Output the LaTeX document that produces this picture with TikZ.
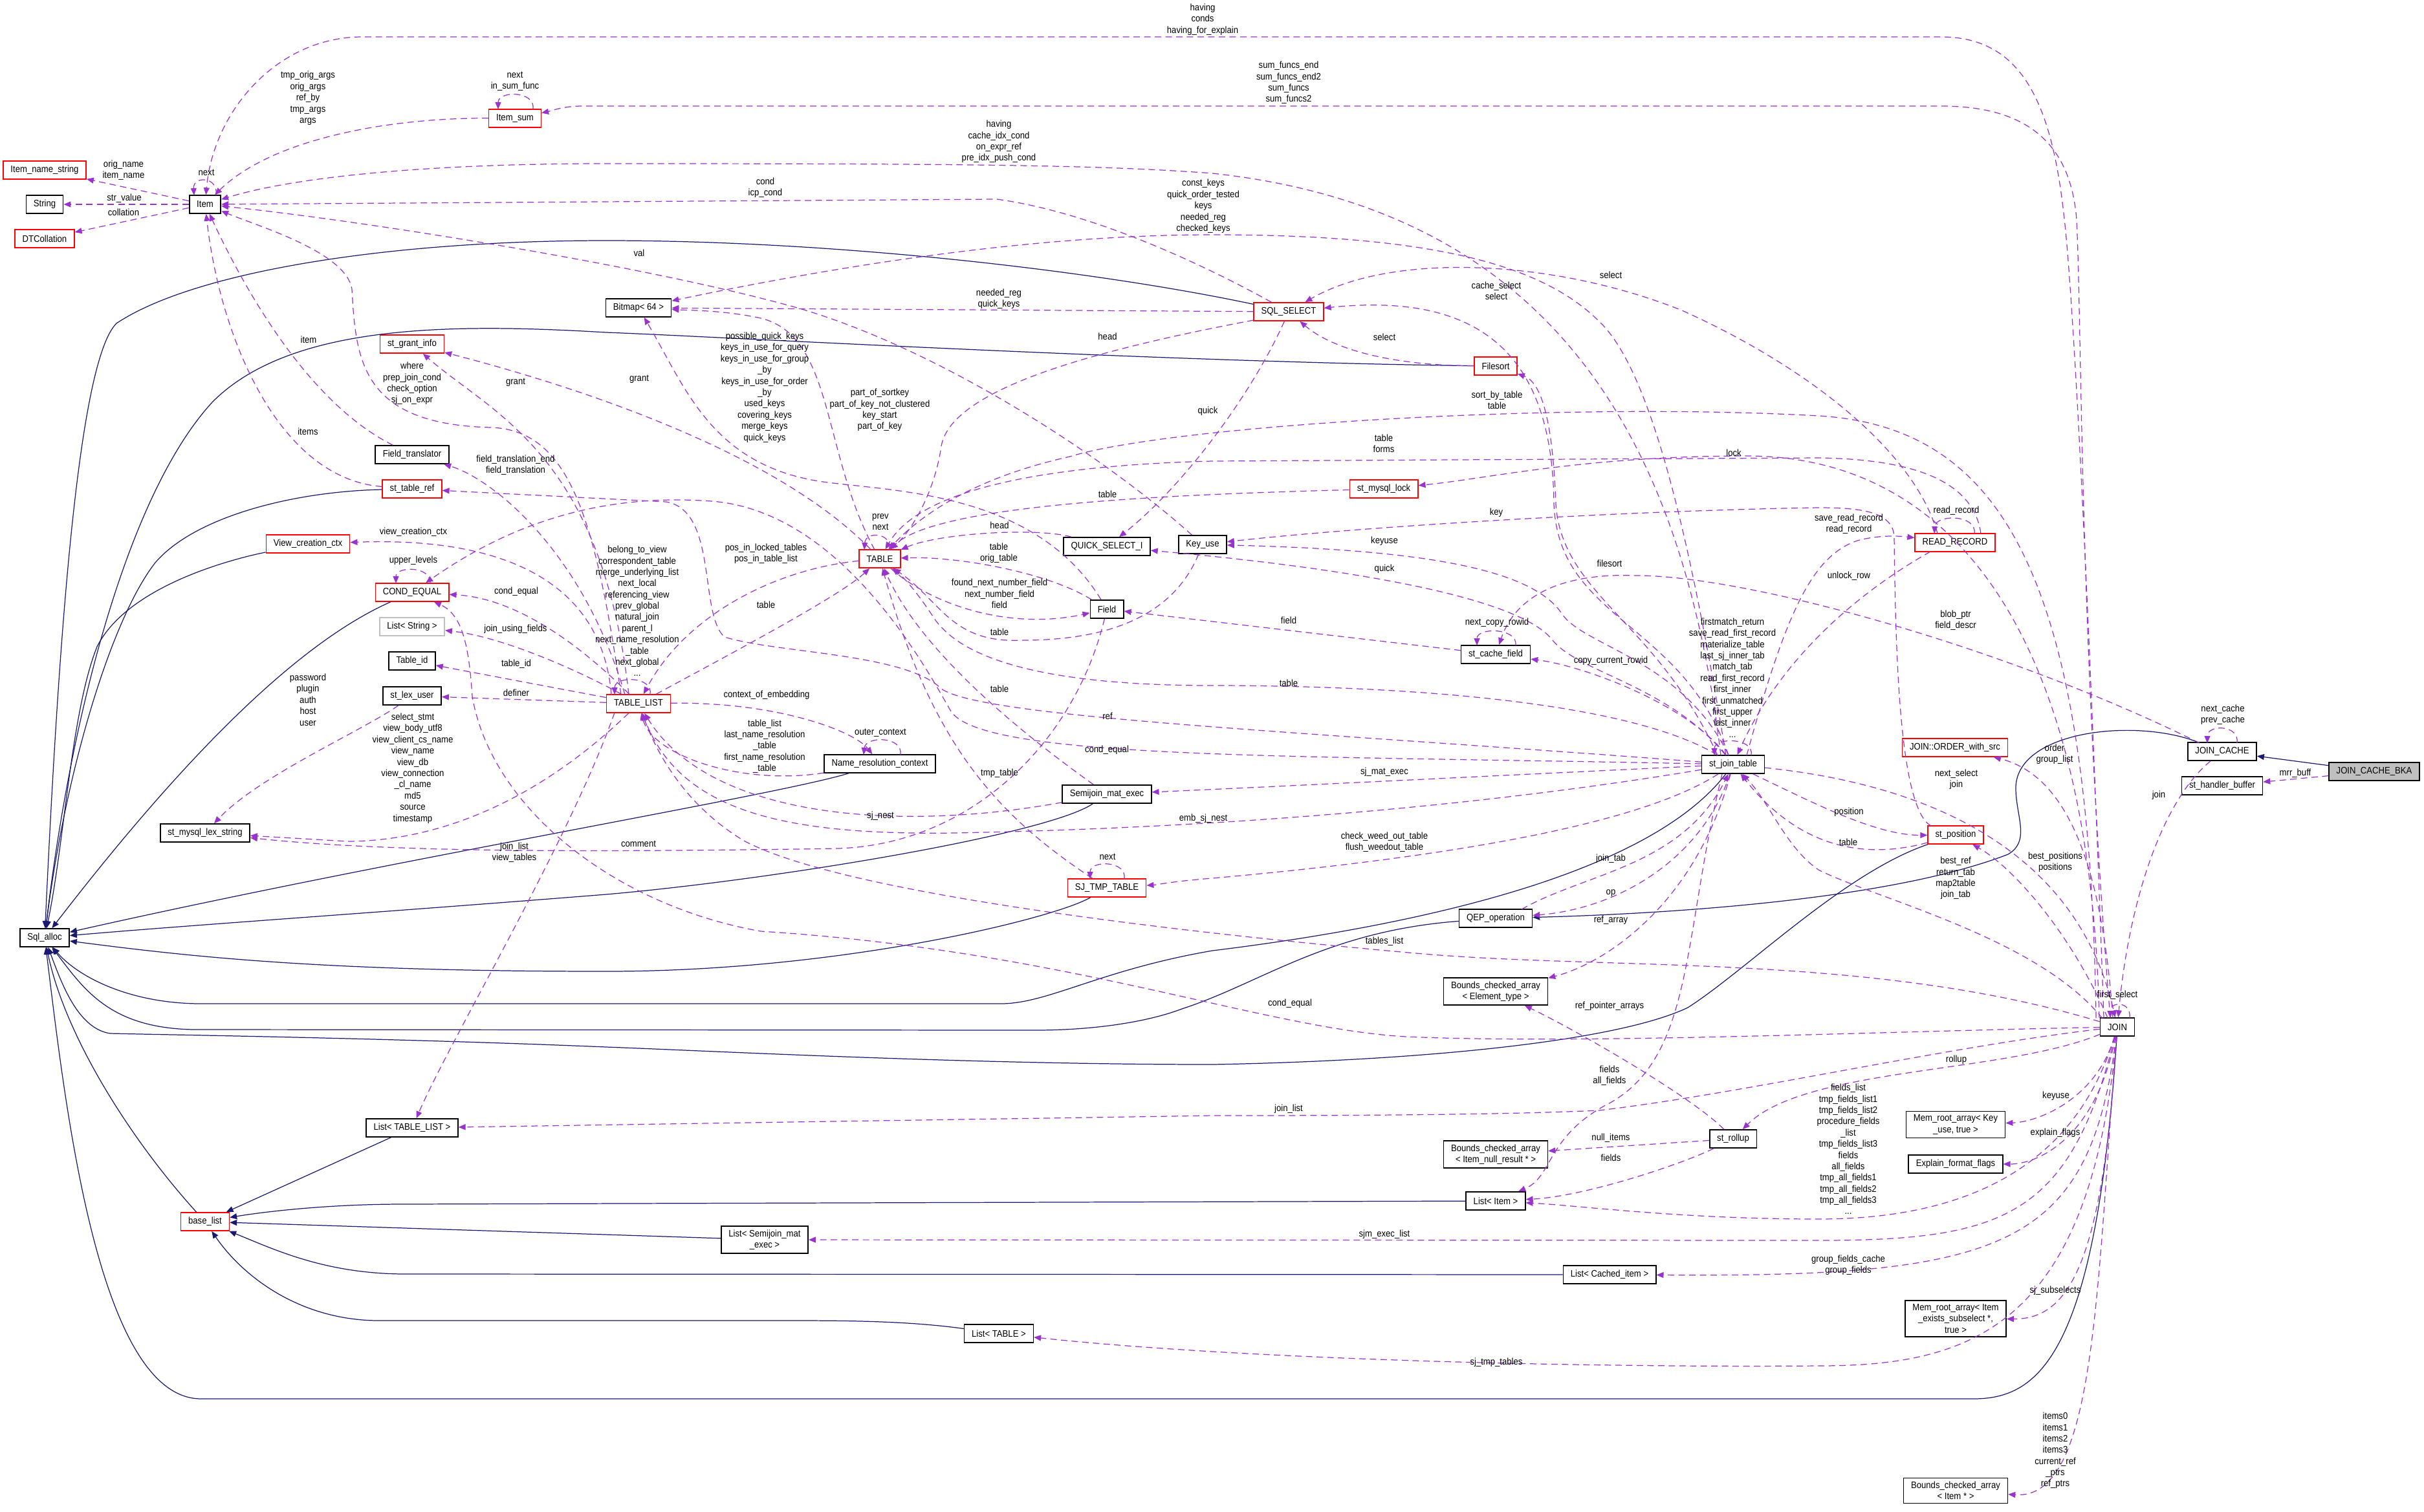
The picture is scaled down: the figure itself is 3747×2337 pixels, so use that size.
\documentclass[tikz,border=0pt]{standalone}
\usepackage{fontspec}
\setmainfont{Liberation Sans}[FakeStretch=0.9]
\usetikzlibrary{arrows.meta}
\definecolor{edgeuse}{HTML}{9A32CD}
\definecolor{edgebase}{HTML}{191970}
\definecolor{boxtrunc}{HTML}{FF0000}
\definecolor{boxgrey}{HTML}{BFBFBF}

\begin{document}
\begin{tikzpicture}[x=0.02cm,y=-0.02cm,
    every node/.style={font=\fontsize{8.3}{9.9}\selectfont},
    cls/.style={draw=black,line width=0.9pt,minimum height=0.56cm,inner xsep=0.23cm,inner ysep=0.11cm,align=center},
    trunc/.style={cls,draw=boxtrunc},
    lbl/.style={align=center,inner sep=0pt},
    use/.style={edgeuse,line width=0.7pt,dash pattern=on 0.2cm off 0.13cm,-{Triangle[length=0.22cm,width=0.18cm]}},
    base/.style={edgebase,line width=0.7pt,-{Triangle[length=0.22cm,width=0.18cm]}}]
    \useasboundingbox (0,0) rectangle (3747,2337);

    \node[trunc] (itemname) at (69,263) {Item\_name\_string};
    \node[cls] (string) at (69,316) {String};
    \node[trunc] (dtcoll) at (69,369) {DTCollation};
    \node[cls] (item) at (317,316) {Item};
    \node[trunc] (itemsum) at (796,183) {Item\_sum};
    \node[cls] (bitmap) at (987,476) {Bitmap< 64 >};
    \node[trunc] (sqlsel) at (1992,482) {SQL\_SELECT};
    \node[trunc] (filesort) at (2312,566) {Filesort};
    \node[trunc] (grantinfo) at (637,532) {st\_grant\_info};
    \node[cls] (fieldtr) at (637,703) {Field\_translator};
    \node[trunc] (tableref) at (637,756) {st\_table\_ref};
    \node[trunc] (mysqllock) at (2139,756) {st\_mysql\_lock};
    \node[trunc] (viewctx) at (476,841) {View\_creation\_ctx};
    \node[trunc] (table) at (1360,864) {TABLE};
    \node[cls] (quicksel) at (1711,845) {QUICK\_SELECT\_I};
    \node[cls] (keyuse) at (1859,842) {Key\_use};
    \node[trunc] (readrec) at (3022,839) {READ\_RECORD};
    \node[trunc] (condeq) at (637,916) {COND\_EQUAL};
    \node[cls] (field) at (1711,942) {Field};
    \node[cls,draw=boxgrey] (liststring) at (637,969) {List< String >};
    \node[cls] (cachefield) at (2312,1012) {st\_cache\_field};
    \node[cls] (tableid) at (637,1022) {Table\_id};
    \node[cls] (lexuser) at (637,1076) {st\_lex\_user};
    \node[trunc] (tablelist) at (987,1088) {TABLE\_LIST};
    \node[trunc] (joinorder) at (3022,1156) {JOIN::ORDER\_with\_src};
    \node[cls] (joincache) at (3435,1162) {JOIN\_CACHE};
    \node[cls] (nameres) at (1360,1181) {Name\_resolution\_context};
    \node[cls] (jointab) at (2679,1182) {st\_join\_table};
    \node[cls,fill=boxgrey] (bka) at (3670,1193) {JOIN\_CACHE\_BKA};
    \node[cls] (handlerbuf) at (3435,1215) {st\_handler\_buffer};
    \node[cls] (sjmat) at (1711,1228) {Semijoin\_mat\_exec};
    \node[cls] (lexstring) at (317,1288) {st\_mysql\_lex\_string};
    \node[trunc] (position) at (3023,1291) {st\_position};
    \node[trunc] (sjtmp) at (1711,1373) {SJ\_TMP\_TABLE};
    \node[cls] (qep) at (2312,1420) {QEP\_operation};
    \node[cls] (sqlalloc) at (69,1450) {Sql\_alloc};
    \node[cls] (bndelem) at (2312,1533) {Bounds\_checked\_array\\< Element\_type >};
    \node[cls] (join) at (3273,1588) {JOIN};
    \node[cls] (memkeyuse) at (3023,1739) {Mem\_root\_array< Key\\\_use, true >};
    \node[cls] (listtl) at (637,1744) {List< TABLE\_LIST >};
    \node[cls] (rollup) at (2679,1761) {st\_rollup};
    \node[cls] (bndnull) at (2312,1785) {Bounds\_checked\_array\\< Item\_null\_result * >};
    \node[cls] (explain) at (3023,1800) {Explain\_format\_flags};
    \node[cls] (listitem) at (2312,1857) {List< Item >};
    \node[trunc] (baselist) at (317,1889) {base\_list};
    \node[cls] (listsjm) at (1182,1917) {List< Semijoin\_mat\\\_exec >};
    \node[cls] (listcached) at (2488,1971) {List< Cached\_item >};
    \node[cls] (memexists) at (3023,2039) {Mem\_root\_array< Item\\\_exists\_subselect *,\\true >};
    \node[cls] (listtable) at (1544,2062) {List< TABLE >};
    \node[cls] (bnditem) at (3023,2305) {Bounds\_checked\_array\\< Item * >};

    \draw[base] (sqlsel) .. controls (1700,420) and (1300,372) .. (937,372) .. controls (600,372) and (300,420) .. (180,500) .. controls (120,560) and (90,1000) .. (sqlalloc);
    \draw[base] (filesort) .. controls (1800,560) and (1100,520) .. (937,514) .. controls (700,500) and (450,500) .. (329,621) .. controls (200,760) and (110,1100) .. (sqlalloc);
    \draw[base] (tableref) .. controls (450,760) and (300,800) .. (240,870) .. controls (170,960) and (100,1200) .. (sqlalloc);
    \draw[base] (viewctx) .. controls (380,860) and (200,900) .. (150,1000) .. controls (110,1100) and (100,1300) .. (sqlalloc);
    \draw[base] (condeq) .. controls (470,990) and (300,1150) .. (sqlalloc);
    \draw[base] (nameres) .. controls (1200,1230) and (600,1330) .. (sqlalloc);
    \draw[base] (sjmat) .. controls (1620,1290) and (1200,1360) .. (937,1383) .. controls (600,1410) and (300,1430) .. (sqlalloc);
    \draw[base] (sjtmp) .. controls (1630,1420) and (1300,1502) .. (937,1502) .. controls (500,1502) and (300,1480) .. (sqlalloc);
    \draw[base] (jointab) .. controls (2550,1350) and (2200,1430) .. (1874,1470) .. controls (1700,1500) and (1620,1552) .. (1547,1552) -- (311,1552) .. controls (200,1552) and (120,1510) .. (sqlalloc);
    \draw[base] (qep) .. controls (2050,1440) and (1950,1520) .. (1827,1560) .. controls (1780,1578) and (1700,1593) .. (1600,1593) -- (300,1592) .. controls (170,1590) and (130,1530) .. (sqlalloc);
    \draw[base] (position) .. controls (2850,1350) and (2700,1500) .. (2609,1558) .. controls (2500,1610) and (2200,1640) .. (1874,1646) .. controls (1500,1646) and (1100,1625) .. (937,1619) .. controls (600,1605) and (250,1600) .. (170,1598) .. controls (120,1590) and (95,1520) .. (sqlalloc);
    \draw[base] (baselist) .. controls (200,1760) and (100,1600) .. (sqlalloc);
    \draw[base] (join) .. controls (3240,2100) and (3150,2163) .. (3050,2163) -- (311,2163) .. controls (150,2163) and (100,1700) .. (sqlalloc);
    \draw[base] (listtl) -- (baselist);
    \draw[base] (listitem) -- (622,1862) .. controls (500,1862) and (400,1875) .. (baselist);
    \draw[base] (listsjm) -- (baselist);
    \draw[base] (listcached) -- (627,1970) .. controls (500,1970) and (420,1930) .. (baselist);
    \draw[base] (listtable) .. controls (1400,2042) and (1300,2042) .. (1212,2042) -- (586,2042) .. controls (470,2042) and (380,1980) .. (baselist);
    \draw[base] (bka) -- (joincache);
    \draw[base] (joincache) .. controls (3300,1110) and (3120,1130) .. (3116,1216) .. controls (3115,1260) and (3140,1300) .. (3104,1321) .. controls (2900,1400) and (2500,1415) .. (qep);

    \draw[use] (item) -- (itemname);
    \draw[use] (item) -- (string);
    \draw[use] (item) -- (dtcoll);
    \draw[use] (334,302) .. controls (338,272) and (298,272) .. (300,302);
    \draw[use] (itemsum) .. controls (600,182) and (420,215) .. (item);
    \draw[use] (824,169) .. controls (828,140) and (770,140) .. (770,169);
    \draw[use] (3252,1574) .. controls (3230,950) and (3205,450) .. (3190,330) .. controls (3170,150) and (3120,57) .. (3000,57) -- (560,57) .. controls (430,57) and (330,170) .. (item);
    \draw[use] (3262,1574) .. controls (3215,1000) and (3218,500) .. (3210,340) .. controls (3200,210) and (3120,164) .. (3000,164) -- (900,164) .. controls (870,164) and (850,172) .. (itemsum);
    \draw[use] (2660,1168) .. controls (2610,750) and (2450,330) .. (1874,268) .. controls (1700,255) and (1500,253) .. (937,253) .. controls (650,253) and (450,275) .. (item);
    \draw[use] (sqlsel) .. controls (1880,420) and (1700,330) .. (1541,308) -- (item);
    \draw[use] (keyuse) .. controls (1700,700) and (1450,540) .. (1236,477) .. controls (1000,410) and (550,340) .. (item);
    \draw[use] (fieldtr) .. controls (470,620) and (370,430) .. (item);
    \draw[use] (tableref) .. controls (430,740) and (340,520) .. (item);
    \draw[use] (960,1074) .. controls (920,800) and (880,665) .. (759,661) .. controls (560,656) and (550,560) .. (544,447) .. controls (535,390) and (400,350) .. (item);
    \draw[use] (972,1074) .. controls (930,700) and (760,640) .. (grantinfo);
    \draw[use] (table) .. controls (1200,700) and (900,600) .. (grantinfo);
    \draw[use] (966,1074) .. controls (900,850) and (760,740) .. (fieldtr);
    \draw[use] (jointab) .. controls (2000,1130) and (1520,1110) .. (1455,1065) .. controls (1400,1010) and (1200,1010) .. (1120,985) .. controls (1080,950) and (1110,790) .. (1030,776) -- (tableref);
    \draw[use] (2668,1168) .. controls (2620,880) and (2560,580) .. (2472,497) .. controls (2380,405) and (2200,363) .. (1874,363) .. controls (1600,363) and (1300,410) .. (bitmap);
    \draw[use] (sqlsel) -- (bitmap);
    \draw[use] (1352,850) .. controls (1270,700) and (1290,520) .. (1176,492) .. controls (1120,480) and (1070,480) .. (bitmap);
    \draw[use] (field) .. controls (1600,760) and (1380,760) .. (1272,745) .. controls (1100,720) and (1060,600) .. (bitmap);
    \draw[use] (1938,495) .. controls (1700,540) and (1470,600) .. (1455,690) .. controls (1445,760) and (1410,820) .. (table);
    \draw[use] (sqlsel) .. controls (1930,620) and (1820,760) .. (quicksel);
    \draw[use] (filesort) .. controls (2150,565) and (2060,540) .. (sqlsel);
    \draw[use] (2672,1168) .. controls (2600,960) and (2410,960) .. (2402,780) .. controls (2400,560) and (2300,450) .. (sqlsel);
    \draw[use] (2995,825) .. controls (2960,700) and (2800,570) .. (2600,480) .. controls (2400,400) and (2150,390) .. (sqlsel);
    \draw[use] (2655,1168) .. controls (2560,960) and (2415,920) .. (2405,780) .. controls (2400,640) and (2380,590) .. (filesort);
    \draw[use] (2985,1277) .. controls (2935,1250) and (2930,1000) .. (2928,830) .. controls (2926,792) and (2880,785) .. (2811,785) .. controls (2500,790) and (2100,815) .. (keyuse);
    \draw[use] (jointab) .. controls (2600,1020) and (2450,1000) .. (2415,950) .. controls (2370,880) and (2200,850) .. (keyuse);
    \draw[use] (jointab) .. controls (2580,1060) and (2440,1040) .. (2400,990) .. controls (2350,925) and (2100,880) .. (quicksel);
    \draw[use] (cachefield) -- (field);
    \draw[use] (2343,998) .. controls (2346,970) and (2283,970) .. (2283,998);
    \draw[use] (jointab) .. controls (2610,1090) and (2450,1030) .. (cachefield);
    \draw[use] (3400,1149) .. controls (3100,1000) and (2700,890) .. (2530,890) .. controls (2400,885) and (2340,930) .. (cachefield);
    \draw[use] (jointab) .. controls (2500,1075) and (2100,1060) .. (1874,1060) .. controls (1560,1060) and (1470,1000) .. (1440,950) .. controls (1420,920) and (1400,895) .. (table);
    \draw[use] (keyuse) .. controls (1810,960) and (1700,990) .. (1580,990) .. controls (1470,995) and (1455,930) .. (table);
    \draw[use] (field) .. controls (1620,885) and (1480,860) .. (table);
    \draw[use] (table) .. controls (1440,935) and (1560,975) .. (field);
    \draw[use] (quicksel) .. controls (1600,815) and (1450,825) .. (table);
    \draw[use] (mysqllock) .. controls (1800,765) and (1450,780) .. (table);
    \draw[use] (3240,1574) .. controls (3230,900) and (3100,660) .. (2811,643) .. controls (2400,620) and (1800,660) .. (1654,706) .. controls (1500,740) and (1420,800) .. (table);
    \draw[use] (3062,825) .. controls (3050,740) and (2950,710) .. (2811,708) -- (1874,713) .. controls (1600,720) and (1420,760) .. (table);
    \draw[use] (3245,1574) .. controls (3230,950) and (3000,705) .. (2700,705) .. controls (2450,705) and (2300,740) .. (mysqllock);
    \draw[use] (2700,1168) .. controls (2760,950) and (2800,860) .. (2871,836) .. controls (2900,828) and (2930,828) .. (readrec);
    \draw[use] (3052,825) .. controls (3056,795) and (2992,795) .. (2990,825);
    \draw[use] (2984,853) .. controls (2900,900) and (2760,1000) .. (jointab);
    \draw[use] (2707,1168) .. controls (2712,1140) and (2650,1140) .. (2650,1168);
    \draw[use] (jointab) .. controls (2630,1330) and (2500,1405) .. (qep);
    \draw[use] (2352,1406) .. controls (2450,1350) and (2600,1340) .. (jointab);
    \draw[use] (jointab) .. controls (2620,1400) and (2480,1490) .. (bndelem);
    \draw[use] (jointab) .. controls (2550,1265) and (2300,1320) .. (1874,1358) .. controls (1810,1363) and (1790,1368) .. (sjtmp);
    \draw[use] (jointab) .. controls (2300,1200) and (2000,1215) .. (sjmat);
    \draw[use] (jointab) .. controls (2300,1245) and (1900,1280) .. (1475,1288) .. controls (1200,1292) and (1050,1250) .. (tablelist);
    \draw[use] (jointab) .. controls (2000,1168) and (1520,1175) .. (1470,1100) .. controls (1430,1030) and (1300,790) .. (1100,775) .. controls (900,760) and (760,830) .. (condeq);
    \draw[use] (join) .. controls (2900,1595) and (2450,1615) .. (2173,1603) .. controls (1950,1590) and (1650,1470) .. (1176,1440) .. controls (950,1400) and (760,1250) .. (730,1077) .. controls (725,1000) and (715,950) .. (condeq);
    \draw[use] (join) .. controls (2900,1475) and (2500,1500) .. (2200,1475) .. controls (1800,1440) and (1300,1380) .. (1150,1300) .. controls (1050,1240) and (1010,1150) .. (tablelist);
    \draw[use] (join) .. controls (3000,1620) and (2700,1690) .. (2472,1717) .. controls (2300,1725) and (2000,1725) .. (1874,1725) -- (listtl);
    \draw[use] (950,1102) .. controls (880,1300) and (700,1600) .. (listtl);
    \draw[use] (1005,1074) .. controls (1010,1045) and (950,1045) .. (950,1074);
    \draw[use] (945,1074) .. controls (930,900) and (780,830) .. (viewctx);
    \draw[use] (tablelist) .. controls (900,1000) and (800,925) .. (condeq);
    \draw[use] (tablelist) .. controls (900,1040) and (780,985) .. (liststring);
    \draw[use] (tablelist) -- (tableid);
    \draw[use] (tablelist) -- (lexuser);
    \draw[use] (tablelist) .. controls (850,1220) and (700,1300) .. (538,1301) -- (lexstring);
    \draw[use] (lexuser) .. controls (560,1130) and (400,1200) .. (lexstring);
    \draw[use] (field) .. controls (1660,1150) and (1500,1305) .. (1296,1312) .. controls (900,1318) and (600,1318) .. (lexstring);
    \draw[use] (table) .. controls (1200,880) and (1060,950) .. (tablelist);
    \draw[use] (tablelist) .. controls (1150,1000) and (1300,920) .. (table);
    \draw[use] (tablelist) .. controls (1200,1085) and (1320,1130) .. (nameres);
    \draw[use] (nameres) .. controls (1150,1215) and (1010,1170) .. (tablelist);
    \draw[use] (1392,1167) .. controls (1396,1138) and (1338,1138) .. (1335,1167);
    \draw[use] (sjmat) .. controls (1400,1285) and (1100,1270) .. (tablelist);
    \draw[use] (sjmat) .. controls (1560,1120) and (1420,1000) .. (table);
    \draw[use] (sjtmp) .. controls (1540,1260) and (1440,1150) .. (table);
    \draw[use] (1738,1359) .. controls (1742,1330) and (1685,1330) .. (1685,1359);
    \draw[use] (1375,850) .. controls (1378,822) and (1338,822) .. (1336,850);
    \draw[use] (665,902) .. controls (667,875) and (612,875) .. (612,902);
    \draw[use] (jointab) .. controls (2800,1240) and (2900,1292) .. (position);
    \draw[use] (position) .. controls (2880,1330) and (2780,1310) .. (jointab);
    \draw[use] (3250,1575) .. controls (3150,1450) and (2900,1390) .. (2811,1345) .. controls (2760,1310) and (2735,1240) .. (jointab);
    \draw[use] (3258,1574) .. controls (3200,1440) and (3110,1340) .. (position);
    \draw[use] (3266,1574) .. controls (3250,1350) and (3200,1200) .. (joinorder);
    \draw[use] (jointab) .. controls (2900,1205) and (3200,1270) .. (join);
    \draw[use] (joincache) .. controls (3340,1240) and (3290,1400) .. (join);
    \draw[use] (3458,1149) .. controls (3462,1120) and (3412,1120) .. (3412,1149);
    \draw[use] (bka) -- (handlerbuf);
    \draw[use] (3292,1574) .. controls (3295,1548) and (3262,1548) .. (3262,1574);
    \draw[use] (join) .. controls (3100,1660) and (2790,1650) .. (rollup);
    \draw[use] (rollup) -- (bndnull);
    \draw[use] (rollup) .. controls (2600,1800) and (2450,1850) .. (listitem);
    \draw[use] (rollup) .. controls (2620,1700) and (2450,1600) .. (bndelem);
    \draw[use] (2662,1197) .. controls (2600,1450) and (2620,1640) .. (2480,1710) .. controls (2390,1760) and (2400,1820) .. (listitem);
    \draw[use] (join) .. controls (3200,1830) and (3000,1885) .. (2811,1885) .. controls (2600,1885) and (2450,1865) .. (listitem);
    \draw[use] (join) .. controls (3200,1880) and (3100,1918) .. (2811,1918) -- (listsjm);
    \draw[use] (join) .. controls (3230,1930) and (3100,1975) .. (listcached);
    \draw[use] (join) .. controls (3240,1700) and (3150,1735) .. (memkeyuse);
    \draw[use] (join) .. controls (3240,1760) and (3150,1800) .. (explain);
    \draw[use] (join) .. controls (3250,1950) and (3200,2040) .. (memexists);
    \draw[use] (join) .. controls (3230,2050) and (3050,2112) .. (2811,2112) .. controls (2400,2115) and (1900,2100) .. (listtable);
    \draw[use] (join) .. controls (3240,2000) and (3240,2320) .. (bnditem);

    \node[lbl] (lb01) at (191,263) {orig\_name\\item\_name};
    \node[lbl] (lb02) at (192,307) {str\_value};
    \node[lbl] (lb03) at (191,328) {collation};
    \node[lbl] (lb04) at (319,267) {next};
    \node[lbl] (lb05) at (476,152) {tmp\_orig\_args\\orig\_args\\ref\_by\\tmp\_args\\args};
    \node[lbl] (lb06) at (796,126) {next\\in\_sum\_func};
    \node[lbl] (lb07) at (1859,30) {having\\conds\\having\_for\_explain};
    \node[lbl] (lb08) at (1992,128) {sum\_funcs\_end\\sum\_funcs\_end2\\sum\_funcs\\sum\_funcs2};
    \node[lbl] (lb09) at (1544,219) {having\\cache\_idx\_cond\\on\_expr\_ref\\pre\_idx\_push\_cond};
    \node[lbl] (lb10) at (1183,290) {cond\\icp\_cond};
    \node[lbl] (lb11) at (988,391) {val};
    \node[lbl] (lb12) at (477,525) {item};
    \node[lbl] (lb13) at (476,667) {items};
    \node[lbl] (lb14) at (637,593) {where\\prep\_join\_cond\\check\_option\\sj\_on\_expr};
    \node[lbl] (lb15) at (797,591) {grant};
    \node[lbl] (lb16) at (988,586) {grant};
    \node[lbl] (lb17) at (797,719) {field\_translation\_end\\field\_translation};
    \node[lbl] (lb18) at (1712,1107) {ref};
    \node[lbl] (lb19) at (1860,319) {const\_keys\\quick\_order\_tested\\keys\\needed\_reg\\checked\_keys};
    \node[lbl] (lb20) at (1544,462) {needed\_reg\\quick\_keys};
    \node[lbl] (lb21) at (1182,599) {possible\_quick\_keys\\keys\_in\_use\_for\_query\\keys\_in\_use\_for\_group\\\_by\\keys\_in\_use\_for\_order\\\_by\\used\_keys\\covering\_keys\\merge\_keys\\quick\_keys};
    \node[lbl] (lb22) at (1360,634) {part\_of\_sortkey\\part\_of\_key\_not\_clustered\\key\_start\\part\_of\_key};
    \node[lbl] (lb23) at (1712,520) {head};
    \node[lbl] (lb24) at (1867,636) {quick};
    \node[lbl] (lb25) at (2140,521) {select};
    \node[lbl] (lb26) at (2313,450) {cache\_select\\select};
    \node[lbl] (lb27) at (2490,425) {select};
    \node[lbl] (lb28) at (2488,871) {filesort};
    \node[lbl] (lb29) at (2313,793) {key};
    \node[lbl] (lb30) at (2140,837) {keyuse};
    \node[lbl] (lb31) at (2140,880) {quick};
    \node[lbl] (lb32) at (1992,959) {field};
    \node[lbl] (lb33) at (2314,963) {next\_copy\_rowid};
    \node[lbl] (lb34) at (2490,1022) {copy\_current\_rowid};
    \node[lbl] (lb35) at (3023,959) {blob\_ptr\\field\_descr};
    \node[lbl] (lb36) at (1992,1056) {table};
    \node[lbl] (lb37) at (1545,977) {table};
    \node[lbl] (lb38) at (1544,855) {table\\orig\_table};
    \node[lbl] (lb39) at (1545,918) {found\_next\_number\_field\\next\_number\_field\\field};
    \node[lbl] (lb40) at (1545,812) {head};
    \node[lbl] (lb41) at (1712,764) {table};
    \node[lbl] (lb42) at (2314,619) {sort\_by\_table\\table};
    \node[lbl] (lb43) at (2139,686) {table\\forms};
    \node[lbl] (lb44) at (2680,700) {lock};
    \node[lbl] (lb45) at (2858,810) {save\_read\_record\\read\_record};
    \node[lbl] (lb46) at (3024,790) {read\_record};
    \node[lbl] (lb47) at (2858,891) {unlock\_row};
    \node[lbl] (lb48) at (2678,1048) {firstmatch\_return\\save\_read\_first\_record\\materialize\_table\\last\_sj\_inner\_tab\\match\_tab\\read\_first\_record\\first\_inner\\first\_unmatched\\first\_upper\\last\_inner\\...};
    \node[lbl] (lb49) at (2490,1381) {op};
    \node[lbl] (lb50) at (2490,1328) {join\_tab};
    \node[lbl] (lb51) at (2490,1423) {ref\_array};
    \node[lbl] (lb52) at (2140,1302) {check\_weed\_out\_table\\flush\_weedout\_table};
    \node[lbl] (lb53) at (2140,1194) {sj\_mat\_exec};
    \node[lbl] (lb54) at (1860,1266) {emb\_sj\_nest};
    \node[lbl] (lb55) at (1711,1160) {cond\_equal};
    \node[lbl] (lb56) at (1994,1552) {cond\_equal};
    \node[lbl] (lb57) at (2140,1456) {tables\_list};
    \node[lbl] (lb58) at (1992,1715) {join\_list};
    \node[lbl] (lb59) at (795,1318) {join\_list\\view\_tables};
    \node[lbl] (lb60) at (985,945) {belong\_to\_view\\correspondent\_table\\merge\_underlying\_list\\next\_local\\referencing\_view\\prev\_global\\natural\_join\\parent\_l\\next\_name\_resolution\\\_table\\next\_global\\...};
    \node[lbl] (lb61) at (639,823) {view\_creation\_ctx};
    \node[lbl] (lb62) at (639,867) {upper\_levels};
    \node[lbl] (lb63) at (798,915) {cond\_equal};
    \node[lbl] (lb64) at (797,973) {join\_using\_fields};
    \node[lbl] (lb65) at (798,1027) {table\_id};
    \node[lbl] (lb66) at (798,1071) {definer};
    \node[lbl] (lb67) at (638,1188) {select\_stmt\\view\_body\_utf8\\view\_client\_cs\_name\\view\_name\\view\_db\\view\_connection\\\_cl\_name\\md5\\source\\timestamp};
    \node[lbl] (lb68) at (476,1082) {password\\plugin\\auth\\host\\user};
    \node[lbl] (lb69) at (987,1305) {comment};
    \node[lbl] (lb70) at (1184,856) {pos\_in\_locked\_tables\\pos\_in\_table\_list};
    \node[lbl] (lb71) at (1184,935) {table};
    \node[lbl] (lb72) at (1185,1075) {context\_of\_embedding};
    \node[lbl] (lb73) at (1182,1154) {table\_list\\last\_name\_resolution\\\_table\\first\_name\_resolution\\\_table};
    \node[lbl] (lb74) at (1361,1133) {outer\_context};
    \node[lbl] (lb75) at (1361,1262) {sj\_nest};
    \node[lbl] (lb76) at (1545,1065) {table};
    \node[lbl] (lb77) at (1545,1196) {tmp\_table};
    \node[lbl] (lb78) at (1712,1325) {next};
    \node[lbl] (lb79) at (1361,807) {prev\\next};
    \node[lbl] (lb80) at (2858,1256) {position};
    \node[lbl] (lb81) at (2857,1302) {table};
    \node[lbl] (lb82) at (3023,1358) {best\_ref\\return\_tab\\map2table\\join\_tab};
    \node[lbl] (lb83) at (3177,1333) {best\_positions\\positions};
    \node[lbl] (lb84) at (3176,1166) {order\\group\_list};
    \node[lbl] (lb85) at (3024,1205) {next\_select\\join};
    \node[lbl] (lb86) at (3337,1230) {join};
    \node[lbl] (lb87) at (3436,1105) {next\_cache\\prev\_cache};
    \node[lbl] (lb88) at (3548,1196) {mrr\_buff};
    \node[lbl] (lb89) at (3273,1539) {first\_select};
    \node[lbl] (lb90) at (3024,1639) {rollup};
    \node[lbl] (lb91) at (2490,1760) {null\_items};
    \node[lbl] (lb92) at (2490,1790) {fields};
    \node[lbl] (lb93) at (2488,1556) {ref\_pointer\_arrays};
    \node[lbl] (lb94) at (2488,1663) {fields\\all\_fields};
    \node[lbl] (lb95) at (2857,1777) {fields\_list\\tmp\_fields\_list1\\tmp\_fields\_list2\\procedure\_fields\\\_list\\tmp\_fields\_list3\\fields\\all\_fields\\tmp\_all\_fields1\\tmp\_all\_fields2\\tmp\_all\_fields3\\...};
    \node[lbl] (lb96) at (2140,1909) {sjm\_exec\_list};
    \node[lbl] (lb97) at (2857,1956) {group\_fields\_cache\\group\_fields};
    \node[lbl] (lb98) at (3178,1695) {keyuse};
    \node[lbl] (lb99) at (3177,1752) {explain\_flags};
    \node[lbl] (lb100) at (3177,1996) {sj\_subselects};
    \node[lbl] (lb101) at (2313,2107) {sj\_tmp\_tables};
    \node[lbl] (lb102) at (3177,2243) {items0\\items1\\items2\\items3\\current\_ref\\\_ptrs\\ref\_ptrs};
  \end{tikzpicture}
\end{document}
